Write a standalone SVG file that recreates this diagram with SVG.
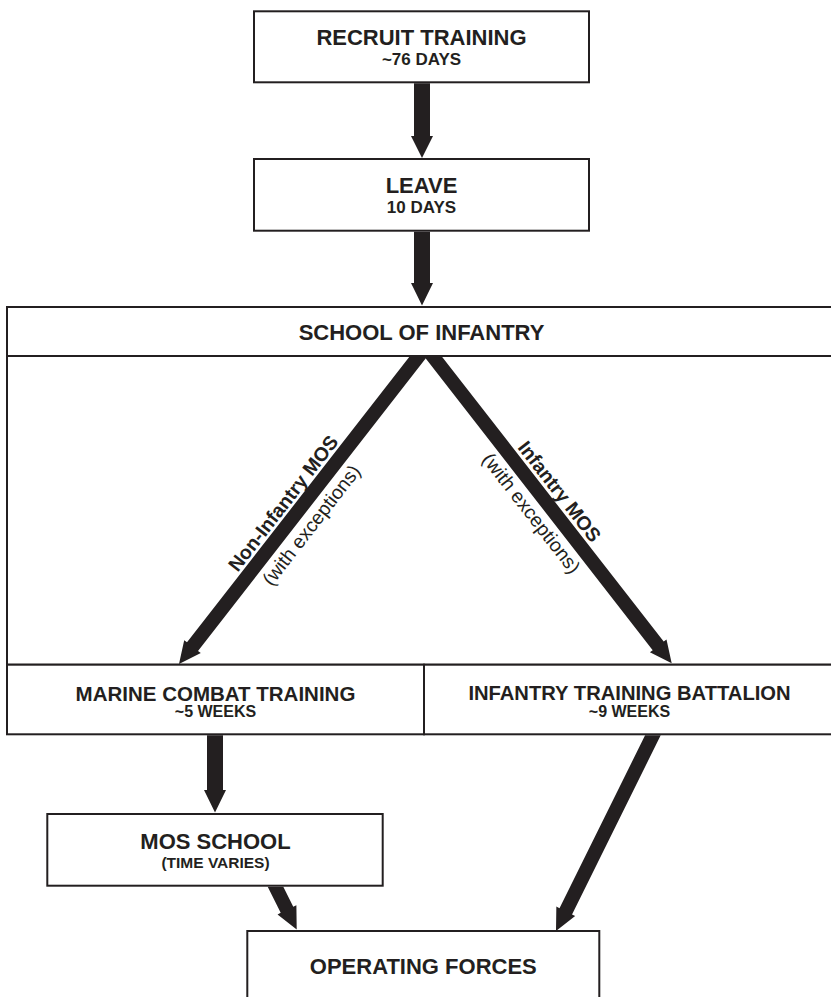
<svg xmlns="http://www.w3.org/2000/svg" width="831" height="997" viewBox="0 0 831 997">
<style>
.box{fill:#fff;stroke:#231f20;stroke-width:2}
.ln{fill:none;stroke:#231f20;stroke-width:2}
.t{font-family:"Liberation Sans",Arial,sans-serif;font-weight:bold;fill:#231f20;text-anchor:middle}
.lbl{font-family:"Liberation Sans",Arial,sans-serif;fill:#231f20;text-anchor:middle;font-size:19.5px}
.arr{fill:#231f20;stroke:none}
</style>
<rect width="831" height="997" fill="#fff"/>
<g id="recruit-training">
<rect class="box" x="254" y="11.3" width="335" height="71"/>
<text class="t" x="421.5" y="45" font-size="22">RECRUIT TRAINING</text>
<text class="t" x="421.5" y="65" font-size="17">~76 DAYS</text>
</g>
<g id="leave">
<rect class="box" x="254" y="159" width="335" height="71.7"/>
<text class="t" x="421.5" y="192.7" font-size="22">LEAVE</text>
<text class="t" x="421.5" y="212.7" font-size="17">10 DAYS</text>
</g>
<g id="school-of-infantry">
<rect class="box" x="7" y="307" width="840" height="357.7"/>
<line class="ln" x1="7" y1="356" x2="847" y2="356"/>
<text class="t" x="421.5" y="340" font-size="22">SCHOOL OF INFANTRY</text>
</g>
<g id="marine-combat-training">
<rect class="box" x="7" y="664.7" width="417" height="69.6"/>
<text class="t" x="215.5" y="700.7" font-size="20.5">MARINE COMBAT TRAINING</text>
<text class="t" x="215.5" y="717.3" font-size="16">~5 WEEKS</text>
</g>
<g id="infantry-training-battalion">
<rect class="box" x="424" y="664.7" width="423" height="69.6"/>
<text class="t" x="629.5" y="700" font-size="20.2">INFANTRY TRAINING BATTALION</text>
<text class="t" x="629.5" y="717.3" font-size="16">~9 WEEKS</text>
</g>
<g id="mos-school">
<rect class="box" x="47.3" y="814" width="335.4" height="71.7"/>
<text class="t" x="215.5" y="849" font-size="22">MOS SCHOOL</text>
<text class="t" x="215.5" y="867.7" font-size="15.5">(TIME VARIES)</text>
</g>
<g id="operating-forces">
<rect class="box" x="247.3" y="931" width="352" height="80"/>
<text class="t" x="423.3" y="974.3" font-size="22">OPERATING FORCES</text>
</g>
<g id="connectors">
<polygon class="arr" points="414,83.3 430,83.3 430,136 433,136 422,158 411,136 414,136"/>
<polygon class="arr" points="414,231.7 430,231.7 430,283 433,283 422,305.5 411,283 414,283"/>
<polygon class="arr" points="409.2,357 426.8,357 198,650.9 200.8,653 179,664 184.2,640.2 187,642.3"/>
<polygon class="arr" points="424.6,357 442.2,357 663.7,641.6 666.5,639.5 671.7,663.3 649.9,652.3 652.7,650.2"/>
<polygon class="arr" points="207,735.3 223,735.3 223,790 226,790 215,812.5 204,790 207,790"/>
<polygon class="arr" points="267.7,886.7 283.3,886.7 293.25,906.67 296.39,905.13 296.7,929.5 277.55,914.41 280.69,912.87"/>
<polygon class="arr" points="645.1,735.3 660.7,735.3 572.03,914.38 575.17,915.94 556,931 556.35,906.62 559.49,908.18"/>
<g transform="translate(296,513.2) rotate(-52.2)">
<text class="lbl" x="0" y="-9.5" font-weight="bold">Non-Infantry MOS</text>
<text class="lbl" x="0" y="26">(with exceptions)</text>
</g>
<g transform="translate(546.7,501.4) rotate(52.2)">
<text class="lbl" x="0" y="-9.5" font-weight="bold">Infantry MOS</text>
<text class="lbl" x="0" y="26">(with exceptions)</text>
</g>
</g>
</svg>
